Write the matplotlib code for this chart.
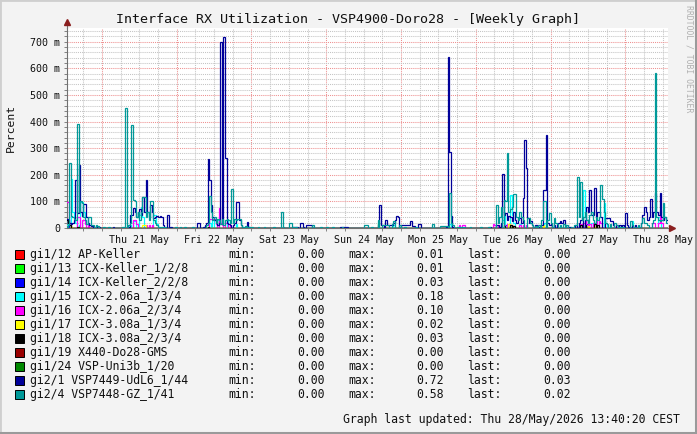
import matplotlib
matplotlib.use('Agg')
import matplotlib.pyplot as plt
from matplotlib.patches import Rectangle
import numpy as np

# ── Canvas ───────────────────────────────────────────────────
W, H = 697, 434
BG = '#f3f3f3'
MONO = 'DejaVu Sans Mono'

# ── Data: (hours since Thu 21 May 00:00, value in milli-percent), 30 min bins ──
rx_gi1_12 = [(-11.0, 10), (130.0, 5), (155.5, 5)]
rx_gi1_13 = [(-10.5, 10), (131.0, 5), (156.0, 5)]
rx_gi1_14 = [(-11.0, 30), (129.5, 10), (155.5, 15)]
rx_gi1_15 = [(-11.5, 10), (-11.0, 30), (-10.5, 20), (-10.0, 185), (-9.5, 60), (-9.0, 40), (-8.5, 20),
             (-7.5, 10), (-7.0, 98), (-6.5, 98), (-6.0, 60), (-5.5, 30), (-5.0, 15), (-4.5, 10),
             (9.0, 10), (10.0, 25), (10.5, 30), (12.0, 50), (12.5, 80), (13.0, 40), (16.5, 50),
             (17.0, 50), (17.5, 15), (34.5, 20), (35.5, 35), (37.0, 30), (40.0, 30), (43.0, 15),
             (88.5, 20), (93.5, 10), (111.5, 15), (128.5, 30), (129.0, 50), (131.0, 124), (131.5, 50),
             (132.0, 20), (134.0, 15), (142.0, 20), (153.0, 15), (154.5, 143), (155.0, 40), (157.0, 20),
             (161.0, 94), (161.5, 20), (170.0, 28), (178.5, 40), (179.0, 20)]
rx_gi1_16 = [(-11.5, 99), (-11.0, 99), (-10.5, 20), (-8.0, 40), (-7.5, 40), (-6.5, 30), (-6.0, 30),
             (-5.5, 15), (-4.5, 10), (10.0, 30), (10.5, 30), (11.0, 15), (14.0, 10), (15.0, 10),
             (16.0, 10), (34.5, 34), (35.0, 34), (35.5, 34), (36.0, 34), (36.5, 15), (37.5, 75),
             (38.0, 20), (38.5, 10), (39.5, 20), (40.0, 20), (41.0, 10), (114.5, 11), (115.5, 11),
             (116.0, 11), (125.5, 15), (126.0, 10), (127.0, 12), (128.0, 15), (129.0, 10), (130.0, 15),
             (131.0, 12), (132.0, 8), (134.0, 10), (135.0, 12), (136.0, 10), (139.5, 10), (153.5, 15),
             (154.5, 20), (155.5, 30), (156.5, 15), (157.5, 20), (158.5, 30), (159.5, 25), (160.0, 20),
             (176.5, 20), (177.0, 20), (178.5, 20), (179.0, 68), (179.5, 20)]
rx_gi1_17 = [(-10.0, 5), (13.0, 12), (13.5, 12), (88.5, 20), (130.5, 15), (131.0, 10), (141.5, 10),
             (155.0, 10), (156.0, 8), (158.0, 5)]
rx_gi1_18 = [(-11.5, 30), (-11.0, 20), (-10.5, 10), (-8.0, 5), (34.0, 5), (127.5, 5), (129.0, 8),
             (131.0, 10), (132.0, 8), (153.5, 10), (155.0, 10), (158.0, 15), (159.0, 10)]
rx_gi1_19 = []
rx_gi1_24 = []
rx_gi2_1 = [(-11.5, 34), (-11.0, 34), (-10.5, 20), (-10.0, 15), (-9.5, 20), (-9.0, 30), (-8.5, 180),
            (-8.0, 55), (-7.5, 237), (-7.0, 60), (-6.5, 45), (-6.0, 90), (-5.5, 90), (-5.0, 40),
            (-4.5, 20), (-4.0, 10), (-3.5, 8), (-2.0, 8), (-1.0, 5), (3.5, 5),
            (8.5, 5), (9.0, 50), (9.5, 50), (10.0, 75), (10.5, 60), (11.0, 40), (11.5, 60), (12.0, 70),
            (12.5, 50), (13.0, 115), (13.5, 60), (14.0, 180), (14.5, 60), (15.0, 40), (15.5, 86),
            (16.0, 60), (16.5, 37), (17.0, 40), (17.5, 45), (18.0, 40), (18.5, 45), (19.0, 40),
            (19.5, 10), (21.0, 49), (22.0, 5),
            (30.5, 17), (31.0, 17), (32.5, 5), (33.0, 10), (33.5, 20), (34.0, 258), (34.5, 180),
            (35.0, 86), (35.5, 40), (36.0, 30), (36.5, 25), (37.0, 10), (37.5, 20), (38.0, 700),
            (38.5, 20), (39.0, 719), (39.5, 262), (40.0, 20), (40.5, 15), (41.0, 10), (42.0, 10),
            (42.5, 20), (43.0, 98), (43.5, 98), (44.0, 30), (44.5, 10), (46.5, 23), (47.0, 5),
            (61.0, 5), (61.5, 5), (62.0, 5), (62.5, 5), (63.5, 18), (64.0, 18), (64.5, 5), (65.5, 10),
            (66.0, 10), (66.5, 10), (67.0, 10), (76.5, 5), (77.0, 5), (77.5, 5), (78.0, 5), (78.5, 5),
            (88.5, 10), (89.0, 86), (89.5, 10), (90.0, 10), (91.0, 30), (91.5, 10), (92.0, 10),
            (92.5, 10), (93.0, 10), (93.5, 20), (94.0, 30), (94.5, 46), (95.0, 40), (96.0, 11),
            (96.5, 11), (97.0, 11), (97.5, 11), (98.0, 11), (98.5, 11), (99.0, 26), (99.5, 8),
            (100.0, 8), (101.5, 15), (102.0, 15), (110.5, 5), (111.0, 642), (111.5, 287), (112.0, 46),
            (112.5, 5),
            (124.5, 5), (126.5, 10), (127.0, 10), (128.0, 20), (128.5, 203), (129.0, 50), (129.5, 55),
            (130.0, 30), (130.5, 45), (131.0, 40), (131.5, 25), (132.0, 60), (132.5, 30), (133.0, 20),
            (133.5, 37), (134.0, 37), (134.5, 20), (135.0, 113), (135.5, 331), (136.0, 225),
            (136.5, 37), (137.0, 20), (137.5, 25), (138.0, 10), (139.0, 10), (140.0, 5), (141.0, 10),
            (141.5, 143), (142.0, 143), (142.5, 350), (143.0, 20), (143.5, 10), (144.0, 15),
            (145.0, 10), (146.0, 15), (146.5, 20), (147.0, 25), (147.5, 20), (148.0, 30), (148.5, 10),
            (150.0, 5), (152.0, 10), (153.0, 20), (153.5, 30), (154.0, 40), (155.0, 30), (155.5, 80),
            (156.0, 60), (156.5, 143), (157.0, 50), (157.5, 50), (158.0, 149), (158.5, 40),
            (159.0, 60), (159.5, 60), (160.0, 40), (161.5, 38), (162.0, 38), (162.5, 38), (163.0, 25),
            (163.5, 25), (164.0, 10), (165.0, 10), (166.0, 10), (167.0, 10), (168.0, 58), (168.5, 10),
            (169.0, 5), (170.0, 10), (171.0, 10), (172.0, 5), (173.0, 20), (173.5, 50), (174.0, 80),
            (174.5, 60), (175.0, 30), (175.5, 40), (176.0, 108), (176.5, 40), (177.0, 60),
            (177.5, 133), (178.0, 60), (178.5, 50), (179.0, 131), (179.5, 40), (180.0, 30),
            (180.5, 40), (181.0, 30), (181.5, 30)]
rx_gi2_4 = [(-11.5, 5), (-11.0, 10), (-10.5, 245), (-10.0, 45), (-9.5, 40), (-9.0, 35), (-8.5, 30),
            (-8.0, 391), (-7.5, 60), (-7.0, 100), (-6.5, 95), (-6.0, 40), (-5.5, 30), (-5.0, 15),
            (-4.5, 40), (-4.0, 40), (-3.5, 10), (-3.0, 10), (-2.0, 10), (-1.5, 8), (0.5, 5), (2.0, 5),
            (6.5, 5), (7.0, 5), (7.5, 452), (8.0, 5), (8.5, 10), (9.0, 20), (9.5, 387), (10.0, 105),
            (10.5, 100), (11.0, 40), (11.5, 60), (12.0, 30), (12.5, 60), (13.0, 116), (13.5, 116),
            (14.0, 40), (14.5, 60), (15.0, 30), (15.5, 103), (16.0, 103), (16.5, 30), (17.0, 20),
            (17.5, 10), (18.0, 5), (19.0, 5), (20.0, 5),
            (23.5, 5), (25.0, 5), (26.5, 5), (29.0, 5), (33.5, 10), (34.0, 20), (34.5, 121),
            (35.0, 60), (35.5, 30), (36.0, 40), (36.5, 20), (37.0, 35), (37.5, 30), (38.0, 15),
            (38.5, 35), (39.0, 10), (39.5, 30), (40.0, 35), (40.5, 30), (41.0, 20), (41.5, 146),
            (42.0, 20), (42.5, 35), (43.0, 30), (43.5, 35), (44.0, 35), (44.5, 10), (45.0, 5),
            (46.0, 8), (47.0, 5), (48.0, 5), (50.0, 5), (52.0, 5), (55.0, 5),
            (57.5, 60), (58.0, 5), (60.0, 17), (60.5, 17), (61.0, 5), (62.0, 5), (67.5, 10),
            (70.0, 5), (72.0, 5), (74.0, 5), (77.0, 5), (84.0, 10), (84.5, 10), (85.0, 10),
            (86.5, 5), (88.5, 30), (90.0, 10), (90.5, 10), (91.0, 10), (91.5, 10), (93.0, 15),
            (93.5, 25), (95.5, 10), (97.0, 5), (100.5, 5), (106.0, 15), (108.5, 8), (109.0, 8),
            (109.5, 8), (110.0, 8), (110.5, 8), (111.5, 130), (112.0, 20), (112.5, 10), (114.0, 5),
            (115.0, 5), (116.0, 5),
            (118.0, 5), (121.5, 5), (124.0, 5), (126.5, 86), (127.0, 20), (127.5, 40), (128.0, 80),
            (129.0, 105), (129.5, 100), (130.0, 283), (130.5, 60), (131.0, 70), (131.5, 80),
            (132.0, 127), (132.5, 127), (133.0, 40), (133.5, 30), (134.0, 60), (134.5, 40),
            (135.0, 30), (136.5, 37), (137.0, 37), (137.5, 20), (138.0, 10), (139.0, 8), (140.0, 10),
            (141.0, 30), (141.5, 100), (142.0, 100), (143.0, 30), (143.5, 58), (144.0, 20),
            (145.0, 37), (145.5, 20), (146.0, 15), (147.0, 10), (148.0, 15), (149.0, 10),
            (150.5, 5), (151.5, 10), (152.0, 10), (152.5, 190), (153.0, 40), (153.5, 172), (154.0, 30),
            (154.5, 40), (155.0, 60), (155.5, 30), (156.0, 20), (156.5, 50), (157.0, 60), (157.5, 30),
            (158.0, 20), (158.5, 40), (159.0, 30), (159.5, 40), (160.0, 162), (160.5, 110),
            (161.0, 60), (161.5, 20), (162.0, 15), (163.0, 15), (164.5, 20), (165.0, 10), (166.0, 5),
            (167.0, 5), (169.5, 25), (170.0, 10), (171.0, 5), (172.0, 10), (173.0, 20), (173.5, 38),
            (174.0, 20), (174.5, 20), (175.0, 10), (176.5, 20), (177.0, 30), (177.5, 584), (178.0, 40),
            (178.5, 30), (179.0, 25), (179.5, 30), (180.0, 93), (180.5, 40), (181.0, 20), (181.5, 20)]

series_names = ['gi1/12 AP-Keller', 'gi1/13 ICX-Keller_1/2/8', 'gi1/14 ICX-Keller_2/2/8',
                'gi1/15 ICX-2.06a_1/3/4', 'gi1/16 ICX-2.06a_2/3/4', 'gi1/17 ICX-3.08a_1/3/4',
                'gi1/18 ICX-3.08a_2/3/4', 'gi1/19 X440-Do28-GMS', 'gi1/24 VSP-Uni3b_1/20',
                'gi2/1 VSP7449-UdL6_1/44', 'gi2/4 VSP7448-GZ_1/41']
series_data = [rx_gi1_12, rx_gi1_13, rx_gi1_14, rx_gi1_15, rx_gi1_16, rx_gi1_17,
               rx_gi1_18, rx_gi1_19, rx_gi1_24, rx_gi2_1, rx_gi2_4]
series_min = [0.00] * 11
series_max = [0.01, 0.01, 0.03, 0.18, 0.10, 0.02, 0.03, 0.00, 0.00, 0.72, 0.58]
series_last = [0.00, 0.00, 0.00, 0.00, 0.00, 0.00, 0.00, 0.00, 0.00, 0.03, 0.02]

day_labels = ['Thu 21 May', 'Fri 22 May', 'Sat 23 May', 'Sun 24 May',
              'Mon 25 May', 'Tue 26 May', 'Wed 27 May', 'Thu 28 May']
y_tick_values = [0, 100, 200, 300, 400, 500, 600, 700]
y_tick_labels = ['0', '100 m', '200 m', '300 m', '400 m', '500 m', '600 m', '700 m']

# ── Styles ───────────────────────────────────────────────────
COLORS = ['#ff0000', '#00ff00', '#0000ff', '#00ffff', '#ff00ff', '#ffff00',
          '#000000', '#990000', '#008800', '#000099', '#009999']
MINOR_GRID = '#c4c4c4'
MAJOR_GRID = '#ee9090'
AXIS_COLOR = '#707070'
ARROW_COLOR = '#8b1f1f'

X_MIN, X_MAX = -11.2, 181.7
Y_MAX = 751.6
BIN = 0.5
T0, T1 = -11.5, 182.0


def px(x, y):
    return x / W, 1 - y / H


def to_steps(points, edges):
    vals = np.zeros(len(edges) - 1)
    for h, v in points:
        vals[int(round((h - T0) / BIN))] = v / 1000.0
    return vals


fig = plt.figure(figsize=(W / 100, H / 100), dpi=100)
fig.patch.set_facecolor(BG)

# bevel frame
fig.patches.append(Rectangle((0, 0), 1, 1, transform=fig.transFigure, fill=False,
                             ec='#cfcfcf', lw=2.0))
fig.add_artist(plt.Line2D([0, 1], [0.002, 0.002], transform=fig.transFigure, color='#9a9a9a', lw=2.2))
fig.add_artist(plt.Line2D([0.9985, 0.9985], [0, 1], transform=fig.transFigure, color='#9a9a9a', lw=2.2))

ax = fig.add_axes([67 / W, 1 - 228 / H, 601 / W, 200 / H])
ax.set_facecolor('white')

# ── Grid ─────────────────────────────────────────────────────
dots = (0, (1, 1))
for h in np.arange(-6, X_MAX, 6):
    ax.axvline(h, color=MAJOR_GRID if h % 24 == 0 else MINOR_GRID, lw=0.75, ls=dots, zorder=0.5)
for v in np.arange(20, Y_MAX, 20):
    ax.axhline(v / 1000, color=MAJOR_GRID if v % 100 == 0 else MINOR_GRID, lw=0.75, ls=dots, zorder=0.5)

# ── Series ───────────────────────────────────────────────────
edges = np.arange(T0, T1 + BIN / 2, BIN)
for data, color in zip(series_data, COLORS):
    ax.stairs(to_steps(data, edges), edges, baseline=None, color=color, lw=0.9, zorder=3)

# ── Axes ─────────────────────────────────────────────────────
ax.set_xlim(X_MIN, X_MAX)
ax.set_ylim(0, Y_MAX / 1000)
for s in ['top', 'right']:
    ax.spines[s].set_visible(False)
for s in ['left', 'bottom']:
    ax.spines[s].set_color(AXIS_COLOR)
    ax.spines[s].set_linewidth(0.8)

ax.set_yticks([v / 1000 for v in y_tick_values], y_tick_labels)
ax.set_yticks(np.arange(0.02, Y_MAX / 1000, 0.02), minor=True)
ax.set_xticks([12 + 24 * i for i in range(len(day_labels))], day_labels)
ax.set_xticks(np.arange(-6, X_MAX, 6), minor=True)
ax.tick_params(axis='y', which='both', length=2, width=0.6, color=AXIS_COLOR, pad=3)
ax.tick_params(axis='x', which='major', length=0, pad=5)
ax.tick_params(axis='x', which='minor', length=2, width=0.6, color=AXIS_COLOR)
for lab in ax.get_xticklabels() + ax.get_yticklabels():
    lab.set_fontfamily(MONO)
    lab.set_fontsize(7.2)
    lab.set_color('#111111')

# arrows
ax.plot([0, 0], [1, 1.03], transform=ax.transAxes, color=AXIS_COLOR, lw=0.8, clip_on=False)
ax.plot([0], [1.03], marker='^', ms=4.5, color=ARROW_COLOR, transform=ax.transAxes, clip_on=False)
ax.plot([1, 1.007], [0, 0], transform=ax.transAxes, color=AXIS_COLOR, lw=0.8, clip_on=False)
ax.plot([1.007], [0], marker='>', ms=4.5, color=ARROW_COLOR, transform=ax.transAxes, clip_on=False)

# ── Titles ───────────────────────────────────────────────────
fig.text(*px(348, 19), 'Interface RX Utilization - VSP4900-Doro28 - [Weekly Graph]',
         family=MONO, fontsize=9.6, ha='center', va='center', color='#111111')
fig.text(*px(11, 128), 'Percent', family=MONO, fontsize=8.2, rotation=90,
         ha='center', va='center', color='#111111')
fig.text(*px(689, 5), 'RRDTOOL / TOBI OETIKER', family=MONO, fontsize=5.9, rotation=270,
         ha='center', va='top', color='#b0b0b0')

# ── Legend ───────────────────────────────────────────────────
for i, name in enumerate(series_names):
    y = 254.5 + 14 * i
    fig.patches.append(Rectangle(px(15, y + 4.5), 9 / W, 9 / H, transform=fig.transFigure,
                                 fc=COLORS[i], ec='black', lw=0.7))
    kw = dict(family=MONO, fontsize=8.3, va='center', color='#111111')
    fig.text(*px(30, y), name, ha='left', **kw)
    fig.text(*px(228, y), 'min:', ha='left', **kw)
    fig.text(*px(325, y), f'{series_min[i]:.2f}', ha='right', **kw)
    fig.text(*px(348, y), 'max:', ha='left', **kw)
    fig.text(*px(444, y), f'{series_max[i]:.2f}', ha='right', **kw)
    fig.text(*px(467, y), 'last:', ha='left', **kw)
    fig.text(*px(571, y), f'{series_last[i]:.2f}', ha='right', **kw)

fig.text(*px(680, 420), 'Graph last updated: Thu 28/May/2026 13:40:20 CEST',
         family=MONO, fontsize=8.3, ha='right', va='center', color='#111111')

fig.savefig('out.png', dpi=100, facecolor=fig.get_facecolor())
